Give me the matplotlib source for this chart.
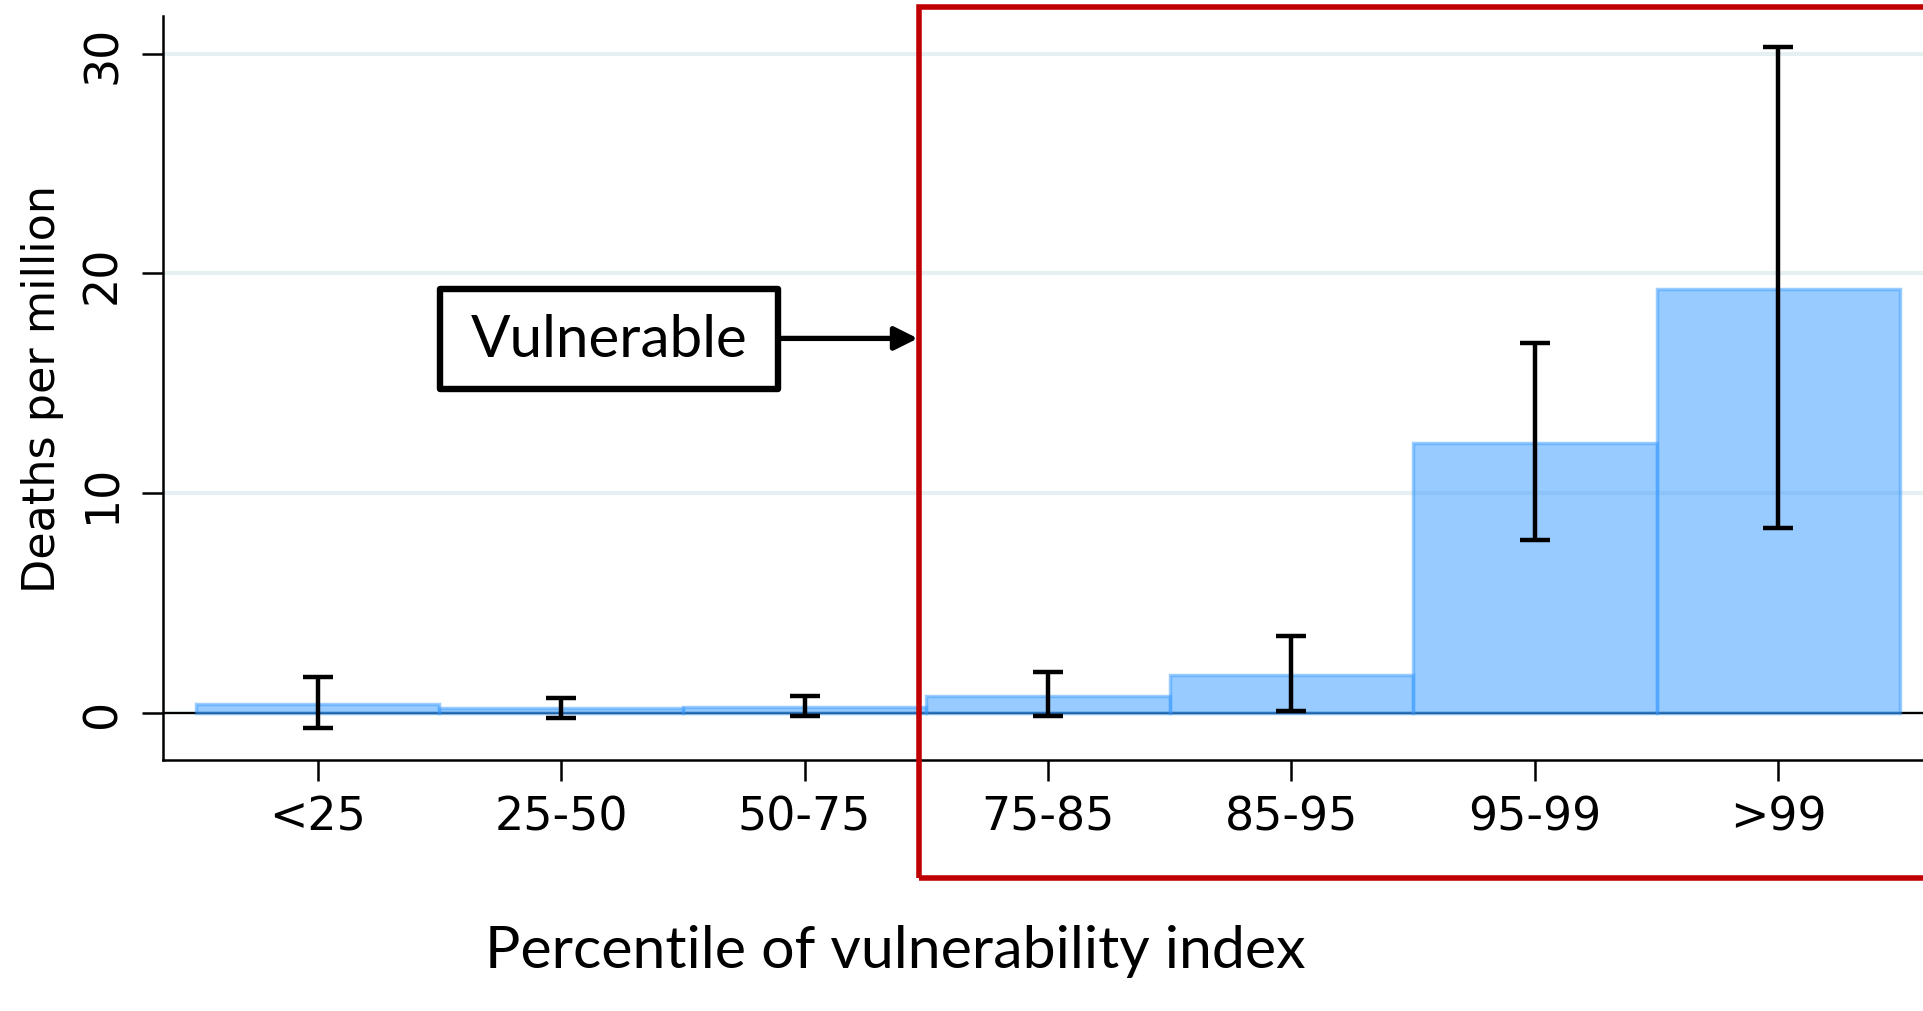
import numpy as np
import matplotlib.pyplot as plt
from matplotlib.patches import Rectangle

# data
groups = ["<25", "25-50", "50-75", "75-85", "85-95", "95-99", ">99"]
deaths = [0.40, 0.21, 0.29, 0.77, 1.71, 12.28, 19.28]
ci_low = [-0.69, -0.23, -0.14, -0.16, 0.07, 7.86, 8.42]
ci_high = [1.62, 0.68, 0.77, 1.88, 3.52, 16.83, 30.30]

narrow = ['Liberation Sans Narrow', 'DejaVu Sans Condensed', 'DejaVu Sans']
calibri_like = ['Lato', 'DejaVu Sans']

fig = plt.figure(figsize=(19.23, 10.12), dpi=100)
ax = fig.add_axes([0.0848, 0.2485, 0.9152, 0.7345])

x = np.arange(len(groups))
deaths = np.array(deaths)
yerr = np.vstack([deaths - np.array(ci_low), np.array(ci_high) - deaths])

ax.grid(axis='y', color='#e6eff2', linewidth=3, zorder=0)
ax.set_axisbelow(True)
ax.axhline(0, color='black', linewidth=1.6, zorder=1)
ax.bar(x, deaths, width=1.0, color='#3399ff', alpha=0.5, edgecolor='#3d9dff',
       linewidth=2.5, zorder=2)
ax.errorbar(x, deaths, yerr=yerr, fmt='none', ecolor='black', elinewidth=3.2,
            capsize=11, capthick=3.2, zorder=3)

ax.set_xlim(-0.635, 6.594)
ax.set_ylim(-2.12, 31.7)
ax.set_yticks([0, 10, 20, 30])
ax.set_xticks(x)
ax.set_xticklabels(groups, fontsize=33, family=narrow)
for lab in ax.get_yticklabels():
    lab.set_family(narrow)
    lab.set_fontsize(33)
    lab.set_rotation(90)
    lab.set_va('center')

ax.tick_params(axis='both', length=15, width=1.8, color='black')
ax.tick_params(axis='x', pad=10)
ax.tick_params(axis='y', pad=12)
for side in ['top', 'right']:
    ax.spines[side].set_visible(False)
for side in ['left', 'bottom']:
    ax.spines[side].set_linewidth(1.8)

ax.set_ylabel("Deaths per million", fontsize=32, family=narrow, labelpad=12)

# red "vulnerable" frame
ax.add_patch(Rectangle((2.47, -7.49), 5.0, 39.6, fill=False, edgecolor='#c00000',
                       linewidth=4.0, clip_on=False, zorder=5))

# label box with arrow
ax.add_patch(Rectangle((0.504, 14.75), 1.385, 4.52, fill=True, facecolor='white',
                       edgecolor='black', linewidth=4.6, clip_on=False, zorder=6,
                       joinstyle='round'))
ax.text(1.197, 17.0, "Vulnerable", fontsize=42, family=calibri_like,
        ha='center', va='center', zorder=7)
ax.annotate("", xy=(2.465, 17.04), xytext=(1.889, 17.04),
            arrowprops=dict(arrowstyle='-|>', color='black', lw=3.8,
                            mutation_scale=35, shrinkA=0, shrinkB=0), zorder=6)

fig.text(0.4656, 0.060, "Percentile of vulnerability index", fontsize=42.5,
         family=calibri_like, ha='center', va='center')

fig.savefig("out.png", dpi=100)
